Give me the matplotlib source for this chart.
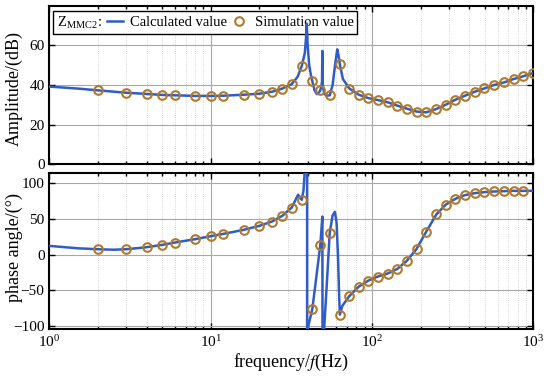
import matplotlib
matplotlib.use('Agg')
import matplotlib.pyplot as plt
from matplotlib.lines import Line2D
from matplotlib.ticker import LogLocator, NullFormatter, FixedLocator
from matplotlib.offsetbox import HPacker

plt.rcParams['font.family'] = ['Liberation Serif', 'DejaVu Serif']
plt.rcParams['mathtext.fontset'] = 'stix'

# ---- simulation points ----
sim_freq = [2, 3, 4, 5, 6, 8, 10, 12, 16, 20, 24, 27.8, 31.8, 36.7, 42.7, 47.8,
            54.7, 63.2, 72.5, 82.8, 94.9, 108.6, 124.8, 143.4, 164.3, 189, 217,
            250.5, 287, 329, 377, 433, 498, 571, 658, 754, 867, 990]
sim_amp = [37.3, 36.1, 35.5, 35.0, 34.8, 34.5, 34.5, 34.6, 35.1, 35.6, 36.6,
           38.2, 40.5, 49.6, 41.8, 37.4, 34.8, 50.4, 38.2, 35.1, 33.4, 32.4,
           31.3, 29.6, 28.1, 26.6, 26.2, 27.9, 30.1, 32.6, 34.6, 36.6, 38.3,
           40.0, 41.3, 43.0, 44.4, 45.9]
sim_phase = [7.5, 7.5, 10.3, 13.6, 16.9, 21.6, 25.8, 29.1, 34.7, 40.3, 46.4,
             54.4, 66.1, 76.9, -75.9, 13.3, 30.9, -84.4, -58.1, -45.0, -36.6,
             -30.9, -26.7, -20.2, -8.9, 8.0, 32.3, 56.3, 70.3, 78.3, 83.5,
             86.3, 87.7, 88.6, 89.1, 89.5, 89.5]

# ---- calculated curve ----
calc_freq_amp = [1, 1.5, 2, 3, 4, 5, 6, 8, 10, 12, 16, 20, 24, 27.8, 31.8, 34.5,
                 36.7, 38.3, 39.0, 39.4, 39.9, 40.8, 41.8, 42.7, 44.0, 45.5,
                 47.0, 47.8, 48.5, 49.0, 49.25, 49.5, 50.5, 52, 54.7, 57, 59,
                 60.9, 62, 63.2, 66, 72.5, 82.8, 94.9, 108.6, 124.8, 143.4,
                 164.3, 189, 217, 250.5, 287, 329, 377, 433, 498, 571, 658, 754,
                 867, 1000]
calc_amp = [39.2, 38.2, 37.3, 36.1, 35.5, 35.0, 34.8, 34.5, 34.5, 34.6, 35.1,
            35.6, 36.6, 38.2, 40.5, 44.0, 49.6, 56.0, 64.0, 71.0, 60.0, 50.0,
            45.0, 41.8, 37.5, 35.4, 36.3, 37.4, 39.0, 42.0, 57.2, 40.0, 35.8,
            34.6, 34.8, 40.0, 50.0, 58.0, 55.0, 50.4, 43.0, 38.2, 35.1, 33.4,
            32.4, 31.3, 29.6, 28.1, 26.6, 26.2, 27.9, 30.1, 32.6, 34.6, 36.6,
            38.3, 40.0, 41.3, 43.0, 44.4, 46.1]

calc_freq_ph = [1, 1.5, 2, 2.5, 3, 4, 5, 6, 8, 10, 12, 16, 20, 24, 27.8, 31.8,
                34.8, 35.8, 36.7, 37.6, 38.5, 39.2, 39.6, 39.62, 39.9, 41.3,
                42.7, 45.2, 47.8, 49.25, 49.35, 50.0, 50.6, 52.5, 54.7, 57.0,
                58.9, 60.3, 61.5, 62.5, 63.2, 65.5, 72.5, 82.8, 94.9, 108.6,
                124.8, 143.4, 164.3, 189, 217, 250.5, 287, 329, 377, 433, 498,
                571, 658, 754, 867, 1000]
calc_phase = [12.2, 8.8, 7.5, 6.8, 7.5, 10.3, 13.6, 16.9, 21.6, 25.8, 29.1,
              34.7, 40.3, 46.4, 54.4, 66.1, 84.0, 80.0, 76.9, 90.0, 125.0,
              170.0, 180.0, -180.0, -105.0, -90.0, -75.9, -31.0, 13.3, 53.4,
              -170.0, -115.0, -101.0, -40.0, 30.9, 55.0, 60.0, 45.0, 0.0, -55.0,
              -84.4, -72.0, -58.1, -45.0, -36.6, -30.9, -26.7, -20.2, -8.9, 8.0,
              32.3, 56.3, 70.3, 78.3, 83.5, 86.3, 87.7, 88.6, 89.1, 89.5, 89.5,
              89.6]

amp_yticks = [0, 20, 40, 60]
ph_yticks = [-100, -50, 0, 50, 100]

line_color = '#2f5cc8'
mk_color = '#b07a2a'

fig = plt.figure(figsize=(5.5, 3.81), dpi=100)
W, H = 550, 381
ax1 = fig.add_axes([49.4 / W, 1 - 164.3 / H, (533.3 - 49.4) / W, (164.3 - 5.7) / H])
ax2 = fig.add_axes([49.4 / W, 1 - 329.3 / H, (533.3 - 49.4) / W, (329.3 - 172.7) / H])

for ax in (ax1, ax2):
    ax.set_xscale('log')
    ax.set_xlim(1, 1000)
    ax.xaxis.set_major_locator(LogLocator(base=10, numticks=10))
    ax.xaxis.set_minor_locator(LogLocator(base=10, subs=range(2, 10), numticks=20))
    ax.xaxis.set_minor_formatter(NullFormatter())
    ax.grid(True, which='major', axis='both', color='#a8a8a8', lw=0.8, ls='-')
    ax.grid(True, which='minor', axis='x', color='#c8c8c8', lw=0.6, ls=':')
    ax.tick_params(which='both', direction='in', top=True, right=True,
                   labelsize=11, width=1.0)
    ax.tick_params(which='major', length=4)
    ax.tick_params(which='minor', length=2.5)
    for s in ax.spines.values():
        s.set_linewidth(1.5)
    ax.set_axisbelow(True)

# amplitude
ax1.plot(calc_freq_amp, calc_amp, color=line_color, lw=1.8, zorder=6)
ax1.plot(sim_freq, sim_amp, ls='none', marker='o', ms=6.2, mfc='none',
         mec=mk_color, mew=1.5, zorder=7)
ax1.set_ylim(0, 80)
ax1.yaxis.set_major_locator(FixedLocator(amp_yticks))
ax1.tick_params(labelbottom=False)
ax1.set_ylabel('Amplitude/(dB)', fontsize=13)
ax1.yaxis.set_label_coords(-0.0546, 0.48)

# phase
ax2.plot(calc_freq_ph, calc_phase, color=line_color, lw=1.8, zorder=6)
ax2.plot(sim_freq[:len(sim_phase)], sim_phase, ls='none', marker='o', ms=6.2,
         mfc='none', mec=mk_color, mew=1.5, zorder=7)
ax2.set_ylim(-105, 115)
ax2.yaxis.set_major_locator(FixedLocator(ph_yticks))
ax2.set_ylabel('phase angle/(°)', fontsize=13)
ax2.yaxis.set_label_coords(-0.0546, 0.52)
ax2.set_xlabel(r'frequency/$f$(Hz)', fontsize=13, labelpad=1)

# legend
h_line = Line2D([], [], color=line_color, lw=1.8)
h_mk = Line2D([], [], ls='none', marker='o', ms=6.2, mfc='none', mec=mk_color, mew=1.5)
leg = ax1.legend([h_line, h_mk], ['Calculated value', 'Simulation value'],
                 ncol=2, loc='upper left', bbox_to_anchor=(0.0074, 0.967),
                 borderaxespad=0, fontsize=10.5, frameon=True, fancybox=False,
                 edgecolor='black', framealpha=1, handlelength=1.1,
                 handletextpad=0.5, columnspacing=0.3, borderpad=0.25,
                 title=r'Z$_{\mathregular{MMC2}}$:', title_fontsize=10.5)
leg.get_frame().set_linewidth(1.0)
try:
    fs = leg._fontsize
    newbox = HPacker(pad=leg.borderpad * fs, sep=0.35 * fs, align='center',
                     children=[leg._legend_title_box, leg._legend_handle_box])
    newbox.set_figure(fig)
    newbox.axes = ax1
    leg._legend_box = newbox
    newbox.set_offset(leg._findoffset)
except Exception:
    pass
leg.set_zorder(5)

fig.savefig('out.png', dpi=100)
